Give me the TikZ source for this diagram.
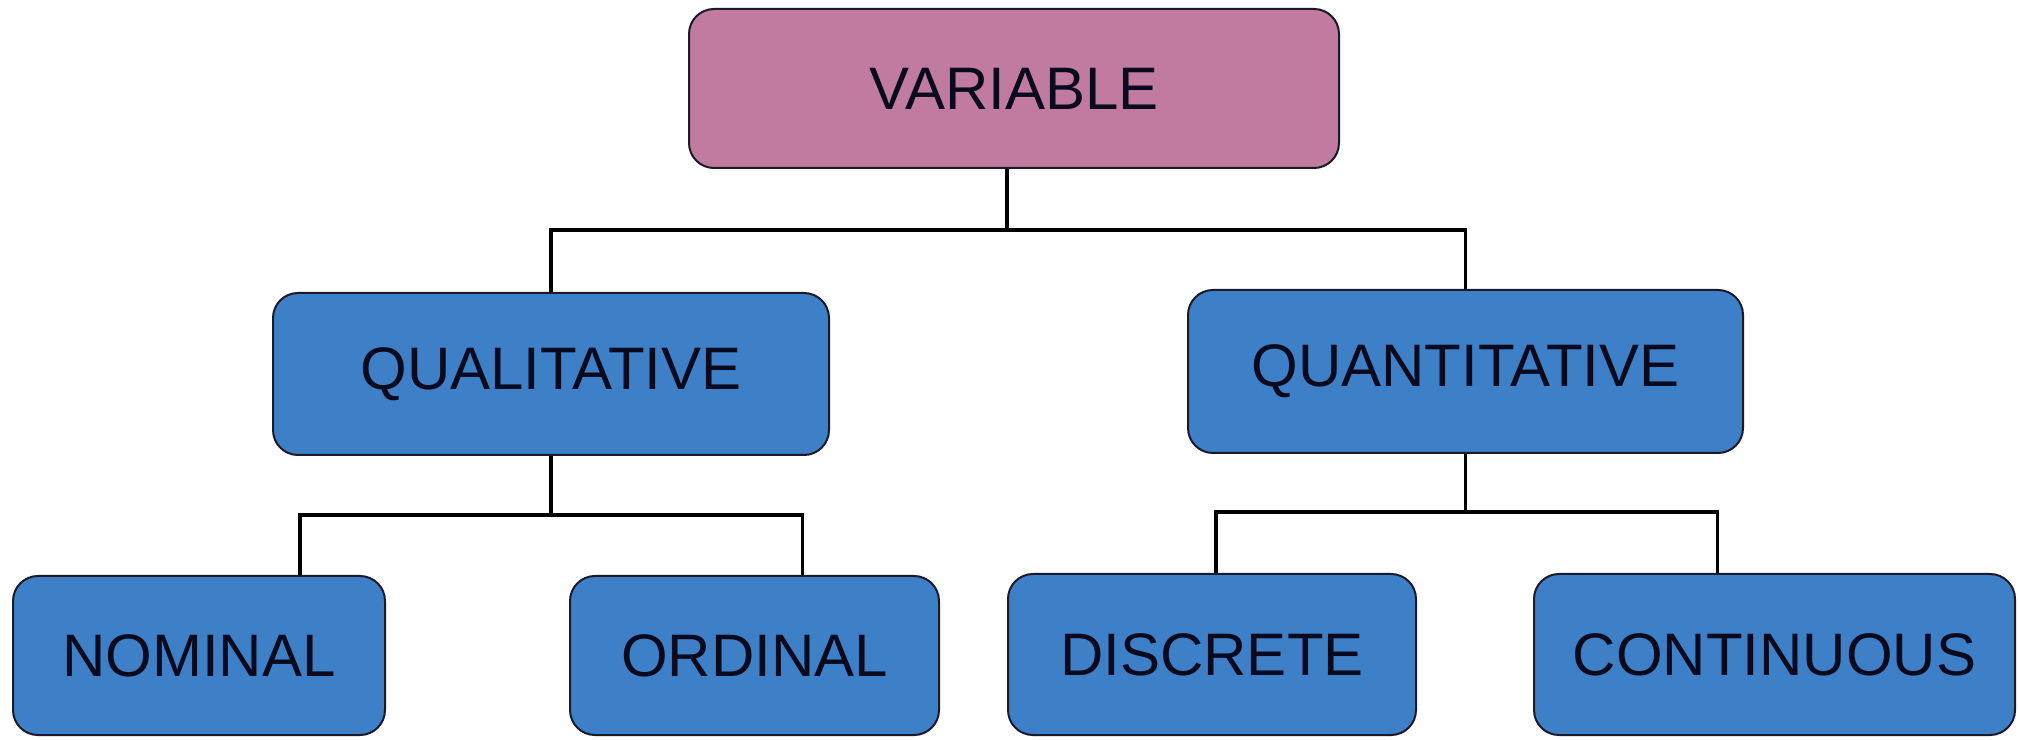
\documentclass[tikz,border=0pt]{standalone}
\usepackage{fontspec}
\setmainfont{Liberation Sans}
\definecolor{pinkfill}{HTML}{C27BA0}
\definecolor{bluefill}{HTML}{3D80C8}
\definecolor{edgecol}{HTML}{1A1A2A}
\definecolor{txtcol}{HTML}{0A0A1E}
\begin{document}
\begin{tikzpicture}[x=1pt,y=1pt,
  box/.style={draw=edgecol, line width=2pt, rounded corners=25pt, inner sep=0pt,
    text=txtcol, font=\fontsize{60}{72}\selectfont},
  catbox/.style={box, fill=bluefill},
  topbox/.style={box, fill=pinkfill},
  link/.style={draw=black, line width=3.5pt}]
\useasboundingbox (0,0) rectangle (2018,739);
\node[topbox, minimum width=650pt, minimum height=159pt] (var) at (1014,650.5) {VARIABLE};
\node[catbox, minimum width=556pt, minimum height=162pt] (qual) at (551,365) {QUALITATIVE};
\node[catbox, minimum width=555pt, minimum height=163pt] (quant) at (1465.5,367.5) {QUANTITATIVE};
\node[catbox, minimum width=372pt, minimum height=159pt] (nom) at (199,83.5) {NOMINAL};
\node[catbox, minimum width=369pt, minimum height=159pt] (ord) at (754.5,83.5) {ORDINAL};
\node[catbox, minimum width=408pt, minimum height=161pt] (disc) at (1212,84.5) {DISCRETE};
\node[catbox, minimum width=481pt, minimum height=161pt] (cont) at (1774.5,84.5) {CONTINUOUS};
\coordinate (j1) at (1007,509);
\coordinate (j2) at (551,224);
\coordinate (j3) at (1465.5,227);
\draw[link] ([xshift=-7pt]var.south) -- (j1);
\draw[link] (j1) -| (qual.north);
\draw[link] (j1) -| (quant.north);
\draw[link] (qual.south) -- (j2);
\draw[link] (j2) -| ([xshift=101pt]nom.north);
\draw[link] (j2) -| ([xshift=48pt]ord.north);
\draw[link] (quant.south) -- (j3);
\draw[link] (j3) -| ([xshift=4pt]disc.north);
\draw[link] (j3) -| ([xshift=-57pt]cont.north);
\end{tikzpicture}
\end{document}
